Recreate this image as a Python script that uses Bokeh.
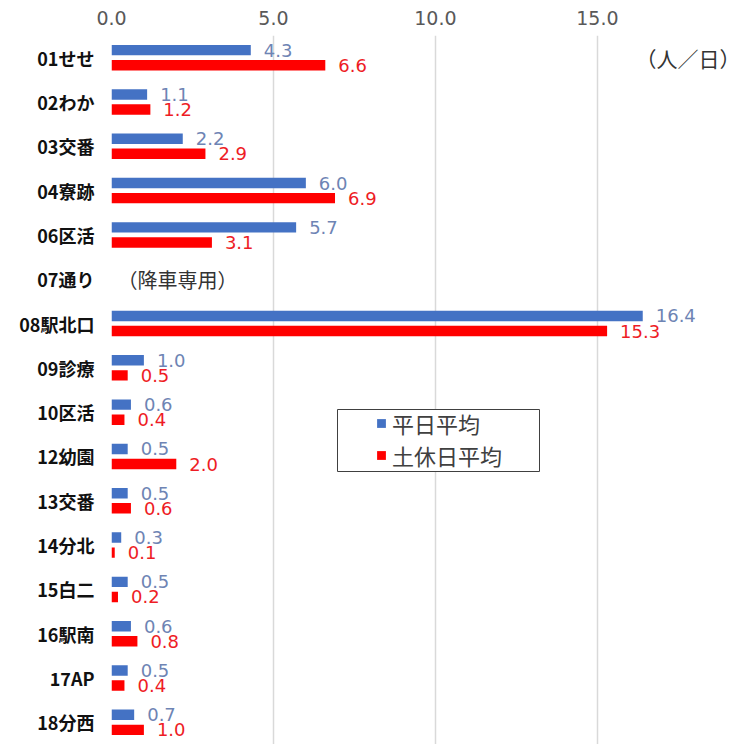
from bokeh.plotting import figure
from bokeh.models import (ColumnDataSource, FactorRange, FixedTicker, NumeralTickFormatter,
                          Legend, LegendItem, Range1d, BoxAnnotation)
from bokeh.transform import dodge
from bokeh.core.properties import value
from bokeh.embed import file_html
from bokeh.resources import INLINE

# ---------------- data ----------------
categories = ["01せせ", "02わか", "03交番", "04寮跡", "06区活", "07通り", "08駅北口", "09診療",
              "10区活", "12幼園", "13交番", "14分北", "15白二", "16駅南", "17AP", "18分西"]
weekday = [4.3, 1.1, 2.2, 6.0, 5.7, None, 16.4, 1.0, 0.6, 0.5, 0.5, 0.3, 0.5, 0.6, 0.5, 0.7]
holiday = [6.6, 1.2, 2.9, 6.9, 3.1, None, 15.3, 0.5, 0.4, 2.0, 0.6, 0.1, 0.2, 0.8, 0.4, 1.0]
series_names = ["平日平均", "土休日平均"]
x_ticks = [0, 5, 10, 15, 20]
note_category = "07通り"
note_text = "（降車専用）"
unit_text = "（人／日）"

# ---------------- styles ----------------
BAR_COLORS = ["#4472C4", "#FF0000"]
LABEL_COLORS = ["#6E84B4", "#EE1C25"]
CJK = "Noto Sans CJK JP"
NUM = "DejaVu Sans"
X_END = 19.85

p = figure(width=754, height=744, output_backend="svg", toolbar_location=None,
           y_range=FactorRange(*reversed(categories)), x_range=Range1d(0, X_END),
           x_axis_location="above", min_border_left=111, min_border_top=35,
           min_border_right=0, min_border_bottom=0)
p.outline_line_color = None
p.background_fill_color = "white"
p.border_fill_color = "white"

# x axis (top)
p.xaxis.ticker = FixedTicker(ticks=x_ticks)
p.xaxis.formatter = NumeralTickFormatter(format="0.0")
p.xaxis.axis_line_color = None
p.xaxis.major_tick_line_color = None
p.xaxis.minor_tick_line_color = None
p.xaxis.major_label_text_font = NUM
p.xaxis.major_label_text_font_size = "19px"
p.xaxis.major_label_text_color = "#595959"
p.xaxis.major_label_standoff = 5

# y axis
p.yaxis.axis_line_color = None
p.yaxis.major_tick_line_color = None
p.yaxis.minor_tick_line_color = None
p.yaxis.major_label_text_font = CJK
p.yaxis.major_label_text_font_style = "bold"
p.yaxis.major_label_text_font_size = "18px"
p.yaxis.major_label_text_color = "#111111"
p.yaxis.major_label_standoff = 11

p.xgrid.grid_line_color = "#D9D9D9"
p.xgrid.grid_line_width = 1.5
p.ygrid.grid_line_color = None

offsets = [0.17, -0.17]
proxies = []
for vals, off, bc, lc in zip([weekday, holiday], offsets, BAR_COLORS, LABEL_COLORS):
    cats = [c for c, v in zip(categories, vals) if v is not None]
    vv = [v for v in vals if v is not None]
    src = ColumnDataSource(dict(cat=cats, val=vv, lbl=["%.1f" % v for v in vv]))
    p.hbar(y=dodge("cat", off, range=p.y_range), right="val", left=0, height=0.235,
           source=src, fill_color=bc, line_color=None)
    p.text(x="val", y=dodge("cat", off, range=p.y_range), text="lbl", source=src,
           x_offset=13, text_baseline="middle", text_align="left",
           text_font=value(NUM), text_font_size="18px", text_color=lc)
    # legend proxy (point not drawn: x is NaN)
    proxies.append(p.scatter(x=[float("nan")], y=[categories[0]], marker="square",
                             fill_color=bc, line_color=None))

# notes
p.text(x=[0], y=[note_category], text=[note_text], x_offset=6, text_baseline="middle",
       text_font=value(CJK), text_font_size="20px", text_color="#333333")
p.text(x=[X_END], y=[categories[0]], text=[unit_text], x_offset=-14, text_align="right",
       text_baseline="middle", text_font=value(CJK), text_font_size="21px", text_color="#333333")

# legend frame (white box with border) drawn beneath the legend entries
legend_box = BoxAnnotation(left=226, right=428, bottom=273, top=335,
                           left_units="screen", right_units="screen",
                           bottom_units="screen", top_units="screen",
                           fill_color="white", fill_alpha=1.0,
                           line_color="#404040", line_width=1, line_alpha=1.0)
p.add_layout(legend_box)

legend = Legend(items=[LegendItem(label=n, renderers=[r]) for n, r in zip(series_names, proxies)],
                location=(259, 273), orientation="vertical",
                glyph_width=22, glyph_height=24, label_standoff=0,
                label_height=22, spacing=0, padding=1, margin=0,
                label_text_font=CJK, label_text_font_size="22px", label_text_color="#404040",
                border_line_color=None, background_fill_alpha=0.0)
p.add_layout(legend, "center")

open("out.html", "w").write(file_html(p, INLINE))
